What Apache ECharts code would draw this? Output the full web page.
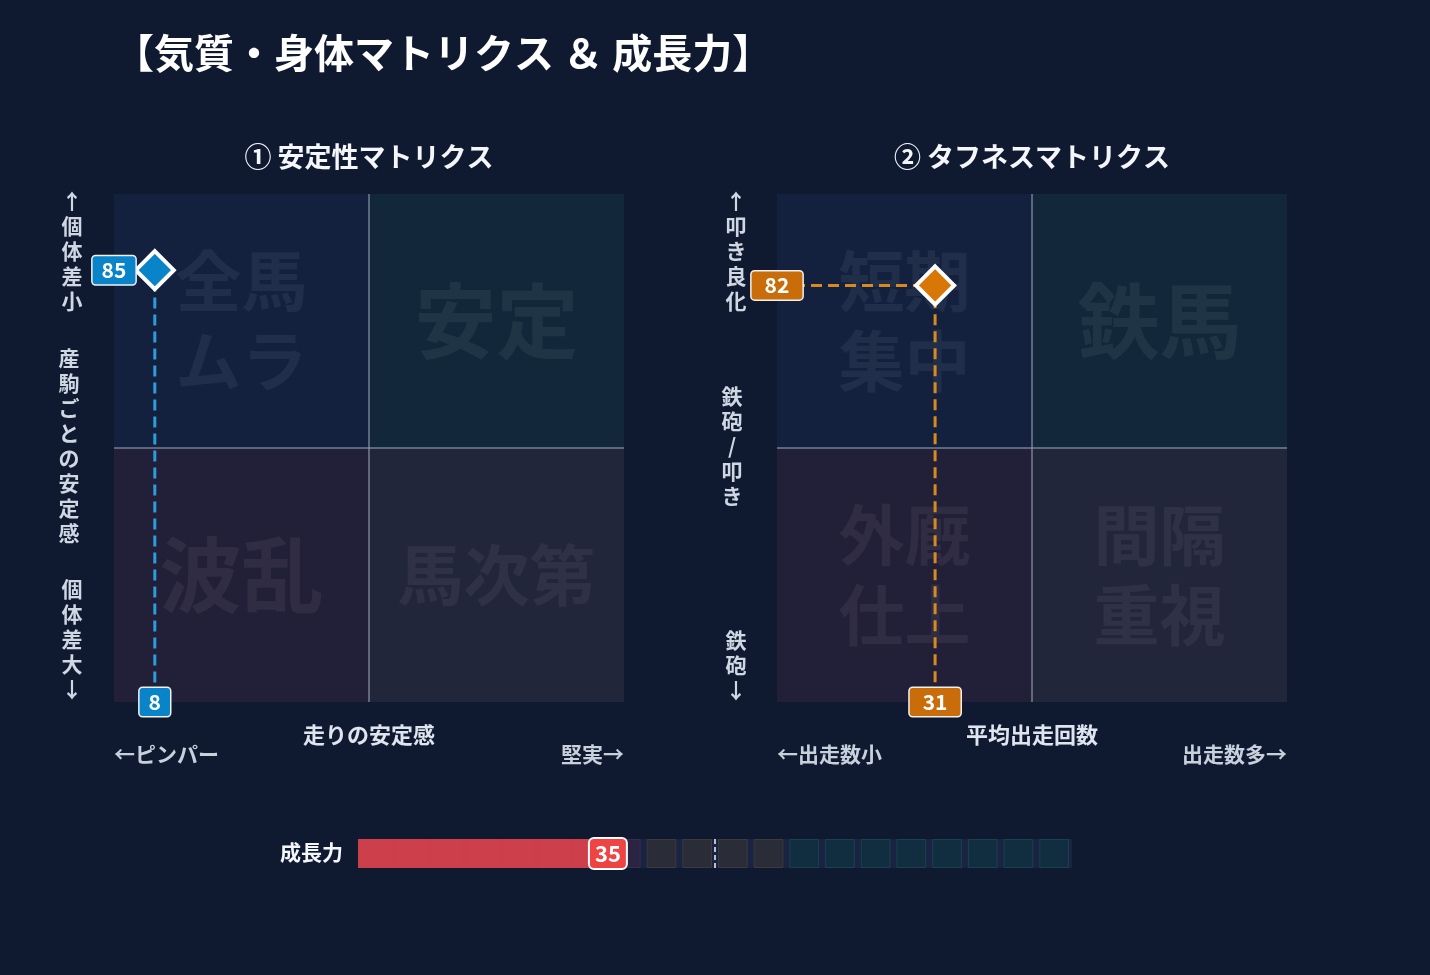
<!DOCTYPE html>
<html>
<head>
<meta charset="utf-8">
<title>気質・身体マトリクス & 成長力</title>
<script src="https://cdn.jsdelivr.net/npm/echarts@6/dist/echarts.min.js"></script>
<style>
  html, body { margin: 0; padding: 0; background: #0f1a31; }
  #main { width: 1430px; height: 975px; }
</style>
</head>
<body>
<div id="main"></div>
<script>
// ---- data ----
var stabilityPoint = [8, 85];     // 走りの安定感, 産駒ごとの安定感
var toughnessPoint = [31, 82];    // 平均出走回数, 鉄砲/叩き
var growthValue = 35;
var growthMarker = 50;
var growthStep = 5;
var growthZones = [[0, 40, 0], [40, 60, 1], [60, 100, 2]];

// quadrant order: 左上, 右上, 左下, 右下
var stabilityQuadrants = ['全馬\nムラ', '安定', '波乱', '馬次第'];
var toughnessQuadrants = ['短期\n集中', '鉄馬', '外厩\n仕上', '間隔\n重視'];

var titleText = '【気質・身体マトリクス ＆ 成長力】';
var chartTitles = ['① 安定性マトリクス', '② タフネスマトリクス'];
var xAxisNames = ['走りの安定感', '平均出走回数'];
var xAxisEnds = [['←ピンパー', '堅実→'], ['←出走数小', '出走数多→']];
var yAxisTexts = [['↑個体差小', '産駒ごとの安定感', '個体差大↓'], ['↑叩き良化', '鉄砲/叩き', '鉄砲↓']];
var growthName = '成長力';

// ---- style ----
var FONT = '"Noto Sans CJK JP", "Noto Sans", sans-serif';
var quadColors = ['#13213f', '#12283a', '#221f38', '#22263a'];
var zoneFill = ['#2a2442', '#2a2d38', '#112d40'];
var zoneBorder = ['#3a2c4a', '#3b3a3c', '#1b4052'];
var accent = [
  { fill: '#0a84c8', line: '#2d9cdb' },
  { fill: '#c96c0a', line: '#d98a1c', point: '#d97706' }
];

var myChart = echarts.init(document.getElementById('main'));

function quadAreas(names) {
  var boxes = [[0, 50, 50, 100], [50, 50, 100, 100], [0, 0, 50, 50], [50, 0, 100, 50]];
  return boxes.map(function (b, i) {
    var single = names[i].indexOf('\n') < 0 && names[i].length <= 2;
    return [
      {
        xAxis: b[0], yAxis: b[3],
        itemStyle: { color: quadColors[i] },
        label: {
          show: true, position: 'inside', formatter: names[i],
          fontSize: single ? 82 : 66, fontWeight: 'bold', lineHeight: 80,
          color: 'rgba(255,255,255,0.06)', fontFamily: FONT
        }
      },
      { xAxis: b[2], yAxis: b[1] }
    ];
  });
}

function valueBox(color, padX) {
  return {
    show: true, position: 'inside',
    backgroundColor: color, borderColor: '#f2f2f2', borderWidth: 1.5, borderRadius: 3,
    padding: [4, padX, 3, padX], color: '#fff', fontSize: 21, fontWeight: 'bold', fontFamily: FONT
  };
}

function matrixSeries(idx, pt, names, padX) {
  var c = accent[idx];
  var xBox = valueBox(c.fill, padX);
  xBox.formatter = function (p) { return p.value[0]; };
  var yBox = valueBox(c.fill, padX);
  yBox.formatter = function (p) { return p.value[1]; };
  return [
    {
      type: 'line', xAxisIndex: idx, yAxisIndex: idx, z: 2,
      symbol: 'none', silent: true,
      data: [[0, pt[1]], [pt[0], pt[1]], [pt[0], 0]],
      lineStyle: { color: c.line, width: 3, type: [11, 6] },
      markArea: { silent: true, data: quadAreas(names) },
      markLine: {
        silent: true, symbol: 'none', label: { show: false },
        lineStyle: { color: 'rgba(150,160,180,0.55)', width: 2, type: 'solid' },
        data: [{ xAxis: 50 }, { yAxis: 50 }]
      }
    },
    {
      type: 'scatter', xAxisIndex: idx, yAxisIndex: idx, z: 5,
      symbol: 'diamond', symbolSize: 38, silent: true,
      itemStyle: { color: c.point || c.fill, borderColor: '#fff', borderWidth: 4, opacity: 1 },
      label: { show: false },
      data: [pt]
    },
    {
      type: 'scatter', xAxisIndex: idx, yAxisIndex: idx, z: 6,
      symbolSize: 1, itemStyle: { color: 'transparent', opacity: 1 }, silent: true,
      label: yBox, data: [[0, pt[1]]]
    },
    {
      type: 'scatter', xAxisIndex: idx, yAxisIndex: idx, z: 6,
      symbolSize: 1, itemStyle: { color: 'transparent', opacity: 1 }, silent: true,
      label: xBox, data: [[pt[0], 0]]
    }
  ];
}

// growth blocks
var blocks = [];
for (var s = 0; s < 100; s += growthStep) {
  var zone = 0;
  growthZones.forEach(function (z) { if (s >= z[0] && s < z[1]) zone = z[2]; });
  blocks.push([s, s + growthStep, zone]);
}

function vText(str) { return str.split('').join('\n'); }

var graphics = [
  { type: 'text', x: 114, y: 53, style: { text: titleText, font: 'bold 40px ' + FONT, fill: '#ffffff', textVerticalAlign: 'middle' } },
  { type: 'text', x: 369, y: 157, style: { text: chartTitles[0], font: 'bold 27px ' + FONT, fill: '#f4f6fa', textAlign: 'center', textVerticalAlign: 'middle' } },
  { type: 'text', x: 1032, y: 157, style: { text: chartTitles[1], font: 'bold 27px ' + FONT, fill: '#f4f6fa', textAlign: 'center', textVerticalAlign: 'middle' } },
  { type: 'text', x: 343, y: 852, style: { text: growthName, font: 'bold 21px ' + FONT, fill: '#f4f6fa', textAlign: 'right', textVerticalAlign: 'middle' } }
];
var lefts = [114, 777];
var yCols = [[72, 69, 72], [736, 732, 736]];
var yTops = [[189, 346, 577], [189, 384, 628]];
[0, 1].forEach(function (i) {
  var L = lefts[i];
  graphics.push({ type: 'text', x: L + 255, y: 735, style: { text: xAxisNames[i], font: 'bold 22px ' + FONT, fill: '#dfe5ee', textAlign: 'center', textVerticalAlign: 'middle' } });
  graphics.push({ type: 'text', x: L, y: 754, style: { text: xAxisEnds[i][0], font: 'bold 21px ' + FONT, fill: '#c8d0dc', textAlign: 'left', textVerticalAlign: 'middle' } });
  graphics.push({ type: 'text', x: L + 510, y: 754, style: { text: xAxisEnds[i][1], font: 'bold 21px ' + FONT, fill: '#c8d0dc', textAlign: 'right', textVerticalAlign: 'middle' } });
  yAxisTexts[i].forEach(function (t, k) {
    graphics.push({ type: 'text', x: yCols[i][k], y: yTops[i][k], style: { text: vText(t), font: 'bold 21px ' + FONT, lineHeight: 25, fill: '#cfd7e3', textAlign: 'center', textVerticalAlign: 'top' } });
  });
});

var option = {
  backgroundColor: '#0f1a31',
  animation: false,
  grid: [
    { left: 114, top: 194, width: 510, height: 508 },
    { left: 777, top: 194, width: 510, height: 508 },
    { left: 358, top: 839, width: 714, height: 29 }
  ],
  xAxis: [
    { type: 'value', gridIndex: 0, min: 0, max: 100, show: false },
    { type: 'value', gridIndex: 1, min: 0, max: 100, show: false },
    { type: 'value', gridIndex: 2, min: 0, max: 100, show: false }
  ],
  yAxis: [
    { type: 'value', gridIndex: 0, min: 0, max: 100, show: false },
    { type: 'value', gridIndex: 1, min: 0, max: 100, show: false },
    { type: 'value', gridIndex: 2, min: 0, max: 1, show: false }
  ],
  graphic: graphics,
  series: []
    .concat(matrixSeries(0, stabilityPoint, stabilityQuadrants, 9))
    .concat(matrixSeries(1, toughnessPoint, toughnessQuadrants, 13))
    .concat([
      {
        type: 'custom', xAxisIndex: 2, yAxisIndex: 2, z: 1, silent: true,
        data: [[0, 100]],
        renderItem: function (params, api) {
          var p0 = api.coord([api.value(0), 1]);
          var p1 = api.coord([api.value(1), 0]);
          return { type: 'rect', shape: { x: p0[0], y: p0[1], width: p1[0] - p0[0], height: p1[1] - p0[1] }, style: { fill: '#1a2341' } };
        }
      },
      {
        type: 'custom', xAxisIndex: 2, yAxisIndex: 2, z: 2, silent: true,
        data: blocks,
        renderItem: function (params, api) {
          var p0 = api.coord([api.value(0), 1]);
          var p1 = api.coord([api.value(1), 0]);
          var k = api.value(2);
          return {
            type: 'rect',
            shape: { x: p0[0] + 3.5, y: p0[1] + 0.5, width: p1[0] - p0[0] - 7, height: p1[1] - p0[1] - 1 },
            style: { fill: zoneFill[k], stroke: zoneBorder[k], lineWidth: 1 }
          };
        }
      },
      {
        type: 'custom', xAxisIndex: 2, yAxisIndex: 2, z: 3, silent: true,
        data: [[0, growthValue]],
        renderItem: function (params, api) {
          var p0 = api.coord([api.value(0), 1]);
          var p1 = api.coord([api.value(1), 0]);
          return { type: 'rect', shape: { x: p0[0], y: p0[1], width: p1[0] - p0[0], height: p1[1] - p0[1] }, style: { fill: '#d8414a', opacity: 0.94 } };
        }
      },
      {
        type: 'scatter', xAxisIndex: 2, yAxisIndex: 2, z: 6, silent: true,
        symbolSize: 1, itemStyle: { color: 'transparent', opacity: 1 },
        data: [[growthValue, 0.5]],
        label: {
          show: true, position: 'inside', formatter: function (p) { return p.value[0]; },
          backgroundColor: '#ef4444', borderColor: '#ffffff', borderWidth: 2, borderRadius: 4,
          padding: [4, 5, 3, 5], color: '#fff', fontSize: 22, fontWeight: 'bold', fontFamily: FONT
        },
        markLine: {
          silent: true, symbol: 'none', label: { show: false },
          lineStyle: { color: '#b9c0cc', width: 2, type: [5, 3] },
          data: [{ xAxis: growthMarker }]
        }
      }
    ])
};

myChart.setOption(option);
</script>
</body>
</html>
